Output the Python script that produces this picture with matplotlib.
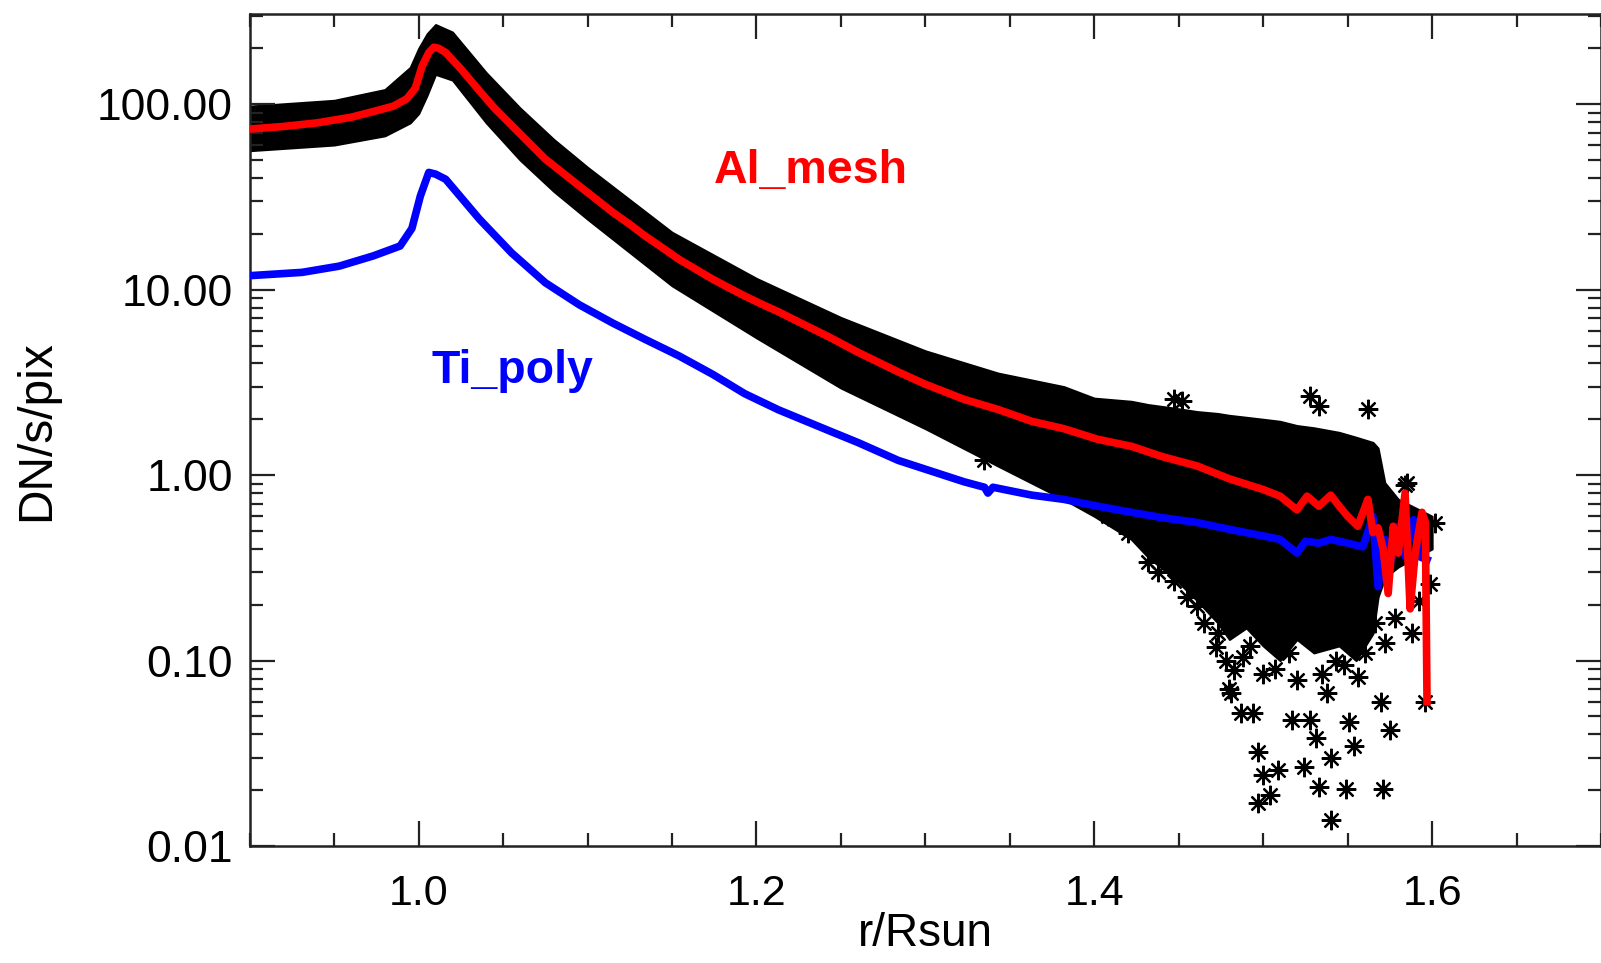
#!/usr/bin/env python3
# -*- coding: utf-8 -*-
"""Radial intensity profile, Al_mesh and Ti_poly, log scale."""
import matplotlib
matplotlib.use("Agg")
import matplotlib.pyplot as plt
from matplotlib.ticker import FixedLocator, FormatStrFormatter, LogLocator, MultipleLocator, NullFormatter

# Al_mesh mean profile (red)
r_al = [0.900, 0.920, 0.940, 0.960, 0.975, 0.985, 0.993, 0.998, 1.002, 1.006, 1.009,
        1.012, 1.016, 1.025, 1.036, 1.045, 1.055, 1.065, 1.075, 1.085, 1.095, 1.105,
        1.115, 1.125, 1.134, 1.144, 1.154, 1.164, 1.174, 1.184, 1.193, 1.205, 1.213,
        1.225, 1.244, 1.260, 1.284, 1.300, 1.323, 1.343, 1.363, 1.382, 1.402, 1.422,
        1.440, 1.461, 1.480, 1.500, 1.510, 1.520, 1.526, 1.533, 1.540, 1.545, 1.550,
        1.556, 1.562, 1.565, 1.568, 1.571, 1.574, 1.577, 1.580, 1.584, 1.587, 1.590,
        1.594, 1.596, 1.597]
dn_al = [73.5, 75.9, 79.4, 85.1, 92.3, 97.7, 107, 122, 160, 190, 203,
         200, 190, 155, 118, 95, 77, 62.4, 50.6, 42.9, 36.3, 30.8,
         26.1, 22.5, 19.5, 16.9, 14.6, 12.9, 11.4, 10.2, 9.25, 8.2, 7.6,
         6.7, 5.5, 4.6, 3.6, 3.09, 2.56, 2.26, 1.95, 1.78, 1.56, 1.43,
         1.26, 1.12, 0.955, 0.836, 0.77, 0.65, 0.77, 0.68, 0.78, 0.68, 0.60,
         0.53, 0.74, 0.49, 0.52, 0.40, 0.23, 0.53, 0.38, 0.80, 0.19, 0.38,
         0.63, 0.56, 0.06]

# Ti_poly mean profile (blue)
r_ti = [0.900, 0.931, 0.953, 0.973, 0.989, 0.996, 1.001, 1.006, 1.010, 1.016, 1.036,
        1.055, 1.075, 1.095, 1.115, 1.134, 1.154, 1.174, 1.193, 1.213, 1.244, 1.260,
        1.284, 1.323, 1.335, 1.337, 1.340, 1.363, 1.382, 1.402, 1.422, 1.440, 1.461,
        1.480, 1.500, 1.510, 1.520, 1.525, 1.533, 1.540, 1.550, 1.559, 1.565, 1.568,
        1.572, 1.576, 1.580, 1.584, 1.589, 1.592, 1.597]
dn_ti = [11.9, 12.4, 13.4, 15.2, 17.2, 21.4, 32, 42.9, 42, 39.4, 24,
         15.8, 10.9, 8.3, 6.6, 5.4, 4.4, 3.5, 2.75, 2.25, 1.72, 1.5,
         1.2, 0.92, 0.86, 0.80, 0.86, 0.78, 0.74, 0.68, 0.63, 0.59, 0.555,
         0.51, 0.47, 0.45, 0.38, 0.44, 0.43, 0.45, 0.43, 0.41, 0.60, 0.25,
         0.45, 0.35, 0.53, 0.365, 0.575, 0.365, 0.35]

# envelope of the dense Al_mesh pixel scatter (black)
r_band = [0.900, 0.950, 0.980, 0.995, 1.000, 1.005, 1.010, 1.020, 1.040, 1.060, 1.080,
          1.100, 1.150, 1.200, 1.250, 1.300, 1.343, 1.382, 1.400, 1.422, 1.432, 1.447,
          1.461, 1.473, 1.480, 1.490, 1.500, 1.510, 1.520, 1.530, 1.545, 1.555, 1.565,
          1.568, 1.572, 1.580, 1.600]
band_hi = [97.7, 105, 120, 158, 200, 240, 269, 245, 148, 95.5, 64.6,
           45.7, 20.4, 11.5, 7.08, 4.68, 3.55, 3.0, 2.6, 2.5, 2.4, 2.3,
           2.2, 2.15, 2.1, 2.05, 2.0, 1.95, 1.85, 1.8, 1.7, 1.6, 1.5,
           1.4, 0.91, 0.74, 0.60]
band_lo = [56.2, 60.3, 67.6, 79.4, 89.1, 112, 145, 135, 79.4, 50.1, 33.9,
           24.0, 10.5, 5.5, 2.95, 1.78, 1.12, 0.74, 0.60, 0.45, 0.36, 0.28,
           0.21, 0.16, 0.13, 0.15, 0.12, 0.10, 0.13, 0.11, 0.12, 0.10, 0.14,
           0.22, 0.28, 0.32, 0.40]

# isolated pixels outside the dense band
r_out = [1.335, 1.408, 1.420, 1.432, 1.447, 1.452, 1.528, 1.533, 1.562, 1.585, 1.602,
         1.599, 1.447, 1.461, 1.473, 1.472, 1.481, 1.487, 1.497, 1.500, 1.509, 1.504,
         1.497, 1.524, 1.533, 1.540, 1.531, 1.540, 1.549, 1.554, 1.551, 1.571, 1.575,
         1.570, 1.596, 1.588, 1.483, 1.480, 1.494, 1.517, 1.528, 1.538, 1.556, 1.572,
         1.543, 1.520, 1.500, 1.488, 1.584, 1.465, 1.478, 1.492, 1.507, 1.515, 1.535,
         1.548, 1.560, 1.566, 1.578, 1.592, 1.455, 1.438]
dn_out = [1.21, 0.60, 0.49, 0.34, 2.56, 2.5, 2.67, 2.36, 2.26, 0.91, 0.55,
          0.26, 0.27, 0.196, 0.14, 0.119, 0.067, 0.052, 0.032, 0.024, 0.0257, 0.0188,
          0.017, 0.0268, 0.0209, 0.0297, 0.038, 0.0138, 0.0204, 0.0344, 0.0468, 0.0204, 0.042,
          0.06, 0.06, 0.14, 0.089, 0.07, 0.052, 0.048, 0.048, 0.067, 0.082, 0.124,
          0.10, 0.079, 0.085, 0.105, 0.88, 0.16, 0.10, 0.12, 0.09, 0.11, 0.085,
          0.095, 0.11, 0.16, 0.17, 0.21, 0.22, 0.30]

y_ticks = [0.01, 0.1, 1.0, 10.0, 100.0]

FONT = "Liberation Sans"
asterisk = (8, 2, 0)


def main():
    fig = plt.figure(figsize=(16.01, 9.63), dpi=100)
    ax = fig.add_axes([0.156, 0.1215, 0.844, 0.8635])

    # pixel scatter: dense part as an envelope, isolated pixels as asterisks
    ax.fill_between(r_band, band_lo, band_hi, color="black", lw=1.5, zorder=1)
    ax.plot(r_out, dn_out, ls="none", marker=asterisk, ms=14, mew=1.6, color="black", zorder=2)

    ax.plot(r_ti, dn_ti, color="blue", lw=5.5, zorder=3)
    ax.plot(r_al, dn_al, color="red", lw=5.5, zorder=4)

    ax.text(1.175, 37.6, "Al_mesh", color="red", fontsize=33.5, fontweight="bold",
            family=FONT, ha="left", va="baseline")
    ax.text(1.0075, 3.12, "Ti_poly", color="blue", fontsize=33.5, fontweight="bold",
            family=FONT, ha="left", va="baseline")

    ax.set_yscale("log")
    ax.set_xlim(0.9, 1.7)
    ax.set_ylim(0.01, 305)

    ax.xaxis.set_major_locator(MultipleLocator(0.2))
    ax.xaxis.set_minor_locator(MultipleLocator(0.05))
    ax.xaxis.set_major_formatter(FormatStrFormatter("%.1f"))
    ax.yaxis.set_major_locator(FixedLocator(y_ticks))
    ax.yaxis.set_minor_locator(LogLocator(base=10, subs=range(2, 10)))
    ax.yaxis.set_major_formatter(FormatStrFormatter("%.2f"))
    ax.yaxis.set_minor_formatter(NullFormatter())

    ax.tick_params(which="both", direction="in", top=True, right=True, width=1.6, color="#222222")
    ax.tick_params(which="major", length=18, labelsize=31, pad=12)
    ax.tick_params(which="minor", length=9.5)
    ax.tick_params(axis="y", which="major", labelsize=32)
    ax.tick_params(axis="x", which="major", pad=20)
    for lab in ax.get_xticklabels() + ax.get_yticklabels():
        lab.set_family(FONT)

    for sp in ax.spines.values():
        sp.set_linewidth(1.8)
        sp.set_color("#222222")

    ax.set_xlabel("r/Rsun", fontsize=33, family=FONT)
    ax.set_ylabel("DN/s/pix", fontsize=34.5, family=FONT)
    ax.xaxis.set_label_coords(0.5, -0.079)
    ax.yaxis.set_label_coords(-0.141, 0.5)

    fig.savefig("out.png", dpi=100)


if __name__ == "__main__":
    main()
